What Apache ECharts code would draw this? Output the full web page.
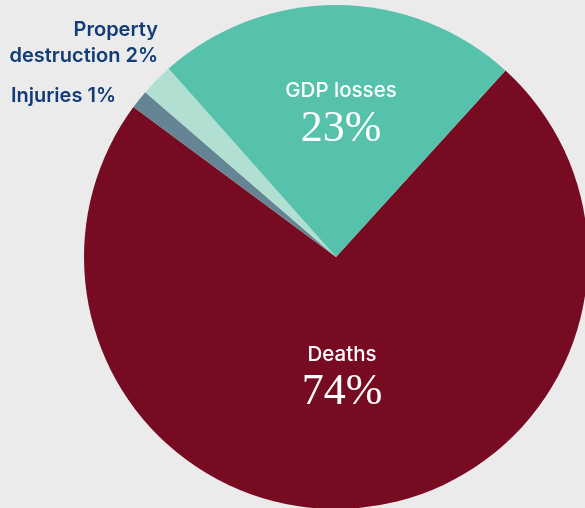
<!DOCTYPE html>
<html>
<head>
<meta charset="utf-8">
<script src="https://cdn.jsdelivr.net/npm/echarts@6/dist/echarts.min.js"></script>
<style>
html,body{margin:0;padding:0;background:#ebebeb;}
#c{width:585px;height:508px;}
</style>
</head>
<body>
<div id="c"></div>
<script>
const categories = ['Deaths', 'Injuries', 'Property destruction', 'GDP losses'];
const labelNames = ['Deaths', 'Injuries', 'Property\ndestruction', 'GDP losses'];
const values = [73.4, 1.2, 2.1, 23.3];
const pctLabels = ['74%', '1%', '2%', '23%'];
const colors = ['#770b22', '#668594', '#b1e0d3', '#56c2ab'];

const chart = echarts.init(document.getElementById('c'), null, {renderer: 'canvas'});

const insideLabel = {
  show: true,
  position: 'inside',
  formatter: p => '{n|' + labelNames[p.dataIndex] + '}\n{v|' + pctLabels[p.dataIndex] + '}',
  rich: {
    n: {color: '#ffffff', fontFamily: 'Inter', fontWeight: 500, fontSize: 20.5, lineHeight: 30, align: 'center'},
    v: {color: '#ffffff', fontFamily: 'Liberation Serif', fontSize: 44, lineHeight: 46, align: 'center'}
  }
};
const outsideLabel = {
  show: true,
  position: 'outside',
  formatter: p => labelNames[p.dataIndex] + ' ' + pctLabels[p.dataIndex],
  color: '#113c78',
  fontFamily: 'Inter',
  fontWeight: 600,
  fontSize: 20,
  lineHeight: 26,
  align: 'right'
};

const labelSpots = {
  0: {x: 342, y: 377.5, align: 'center', verticalAlign: 'middle'},
  1: {x: 116, y: 96, align: 'right', verticalAlign: 'middle'},
  2: {x: 158, y: 43, align: 'right', verticalAlign: 'middle'},
  3: {x: 341, y: 114, align: 'center', verticalAlign: 'middle'}
};

chart.setOption({
  backgroundColor: '#ebebeb',
  animation: false,
  series: [{
    type: 'pie',
    center: [336, 257],
    radius: 252,
    startAngle: 47.74,
    clockwise: true,
    avoidLabelOverlap: false,
    labelLine: {show: false},
    itemStyle: {borderWidth: 0},
    emphasis: {disabled: true},
    labelLayout: p => labelSpots[p.dataIndex],
    data: categories.map((c, i) => ({
      name: c,
      value: values[i],
      itemStyle: {color: colors[i]},
      label: (i === 0 || i === 3) ? insideLabel : outsideLabel
    }))
  }]
});
</script>
</body>
</html>
